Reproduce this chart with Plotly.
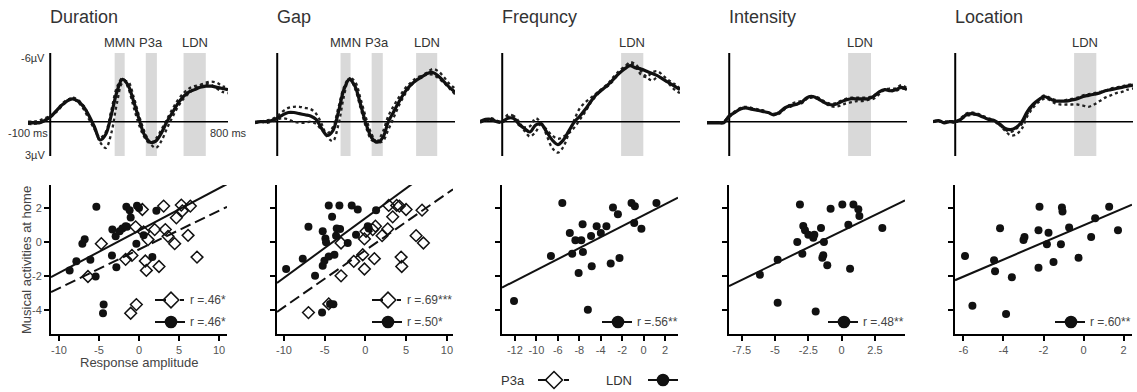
import plotly.graph_objects as go

# ---------------- DATA ----------------
erp_time_ms = [-100, -75, -50, -25, 0, 25, 50, 75, 100, 125, 150, 175, 200, 225, 250, 275, 300,
               325, 350, 375, 400, 425, 450, 475, 500, 525, 550, 575, 600, 625, 650, 675, 700,
               725, 750, 775, 800]

# Duration ERP (uV, negative up)
dur_erp_solid = [0.1, 0.1, 0.1, -0.1, -0.4, -0.9, -1.4, -1.8, -2.0, -1.8, -1.3, -0.5, 0.5, 1.6, 1.1,
                 -0.6, -2.6, -3.7, -3.2, -1.8, -0.2, 1.2, 1.8, 1.7, 1.0, 0.0, -0.8, -1.6, -2.2, -2.6,
                 -2.8, -3.0, -3.1, -3.1, -3.0, -2.9, -2.8]
dur_erp_dot1 = [0.2, 0.2, 0.1, -0.1, -0.4, -0.8, -1.3, -1.8, -2.1, -1.9, -1.4, -0.5, 0.6, 1.8, 2.3,
                1.0, -1.6, -3.4, -3.5, -2.2, -0.5, 0.9, 1.9, 2.3, 1.7, 0.6, -0.4, -1.3, -2.0, -2.5,
                -2.9, -3.2, -3.4, -3.5, -3.4, -3.1, -3.0]
dur_erp_dot2 = [0.0, 0.0, -0.1, -0.3, -0.5, -0.9, -1.5, -1.9, -2.0, -1.7, -1.1, -0.2, 0.7, 1.4, 0.9,
                -1.0, -3.0, -3.8, -3.0, -1.3, 0.3, 1.4, 1.9, 1.5, 0.7, -0.2, -1.1, -1.9, -2.5, -2.9,
                -3.1, -3.2, -3.3, -3.2, -2.9, -2.6, -2.5]
dur_win_labels = ["MMN", "P3a", "LDN"]
dur_win_start = [290, 430, 600]
dur_win_end = [335, 480, 700]

# Gap ERP
gap_erp_solid = [0.1, 0.0, 0.0, -0.1, -0.3, -0.6, -0.8, -0.8, -0.7, -0.6, -0.5, -0.2, 0.6, 1.2, 0.8,
                 -0.8, -2.8, -3.7, -3.1, -1.5, 0.2, 1.4, 1.8, 1.4, 0.0, -0.9, -1.8, -2.6, -3.2, -3.6,
                 -3.9, -4.2, -4.3, -4.0, -3.5, -3.0, -2.6]
gap_erp_dot1 = [0.1, 0.0, -0.1, -0.2, -0.5, -0.9, -1.2, -1.3, -1.3, -1.2, -1.1, -0.7, 0.2, 1.3, 1.7,
                0.3, -2.2, -3.8, -3.5, -2.0, -0.3, 1.1, 1.8, 1.7, 0.7, -0.4, -1.5, -2.4, -3.1, -3.6,
                -4.0, -4.3, -4.6, -4.4, -3.9, -3.3, -2.9]
gap_erp_dot2 = [0.0, 0.0, 0.1, 0.0, -0.2, -0.3, -0.2, 0.0, 0.1, 0.1, 0.0, 0.2, 0.7, 1.0, 0.5,
                -1.2, -3.0, -3.8, -2.9, -1.2, 0.5, 1.6, 1.7, 0.9, -0.5, -1.4, -2.2, -2.9, -3.4, -3.8,
                -4.0, -4.1, -4.1, -3.8, -3.4, -2.9, -2.4]
gap_win_labels = ["MMN", "P3a", "LDN"]
gap_win_start = [285, 425, 625]
gap_win_end = [330, 475, 720]

# Frequency ERP
frq_erp_solid = [0.0, -0.2, -0.2, 0.0, 0.0, -0.3, -0.3, 0.2, 0.6, 0.9, 0.3, 0.2, 0.9, 1.6, 2.0,
                 1.6, 0.8, 0.0, -0.5, -1.1, -1.8, -2.4, -2.8, -3.2, -3.7, -4.2, -4.6, -4.9, -4.7,
                 -4.6, -4.4, -4.2, -4.0, -3.7, -3.4, -3.1, -2.8]
frq_erp_dot1 = [0.0, -0.1, -0.2, 0.0, 0.1, -0.4, -0.5, 0.0, 0.8, 1.3, 0.9, 0.2, 1.2, 2.3, 2.7,
                2.2, 1.0, -0.2, -1.2, -1.7, -2.1, -2.5, -2.9, -3.3, -3.9, -4.4, -4.8, -5.1, -4.8,
                -4.1, -3.9, -4.3, -4.4, -4.0, -3.6, -3.3, -2.9]
frq_erp_dot2 = [0.1, -0.1, -0.3, -0.1, 0.0, -0.6, -0.5, 0.3, 0.5, 0.4, -0.3, 0.1, 0.7, 1.2, 1.5,
                1.3, 1.0, 0.5, -0.2, -0.9, -1.7, -2.3, -2.8, -3.1, -3.6, -4.2, -4.7, -5.2, -5.0,
                -4.4, -3.9, -3.6, -3.9, -3.7, -3.3, -2.8, -2.5]
frq_win_labels = ["LDN"]
frq_win_start = [535]
frq_win_end = [635]

# Intensity ERP
int_erp_solid = [0.1, 0.1, 0.1, 0.1, -0.5, -0.8, -1.1, -1.2, -1.1, -1.0, -0.9, -0.8, -0.6, -0.8,
                 -1.2, -1.4, -1.5, -1.7, -2.1, -2.2, -2.0, -1.7, -1.5, -1.5, -1.7, -1.9, -2.0,
                 -2.0, -2.0, -2.0, -2.2, -2.6, -2.8, -2.7, -2.8, -3.0, -2.8]
int_erp_dot1 = [0.1, 0.1, 0.1, 0.0, -0.4, -0.8, -1.2, -1.3, -1.2, -1.0, -1.0, -0.8, -0.6, -0.7,
                -1.1, -1.5, -1.7, -1.8, -2.0, -2.1, -2.0, -1.7, -1.4, -1.3, -1.4, -1.6, -1.7,
                -1.8, -1.8, -1.9, -2.0, -2.4, -2.8, -2.9, -2.9, -3.2, -2.9]
int_erp_dot2 = [0.1, 0.1, 0.1, 0.0, -0.5, -0.9, -1.1, -1.2, -1.1, -1.1, -0.9, -0.8, -0.7, -0.8,
                -1.2, -1.3, -1.5, -1.6, -2.0, -2.2, -2.1, -1.8, -1.6, -1.6, -1.8, -2.0, -2.1,
                -2.1, -2.1, -2.1, -2.3, -2.6, -2.8, -2.7, -2.7, -2.9, -2.8]
int_win_labels = ["LDN"]
int_win_start = [535]
int_win_end = [638]

# Location ERP
loc_erp_solid = [0.0, -0.1, 0.1, 0.0, 0.0, -0.2, -0.6, -0.7, -0.6, -0.4, -0.2, -0.1, 0.2, 0.6,
                 0.7, 0.5, 0.0, -0.9, -1.5, -1.9, -2.2, -2.0, -1.8, -1.8, -1.8, -1.9, -2.0, -2.2,
                 -2.3, -2.4, -2.5, -2.7, -2.8, -2.9, -3.0, -3.1, -3.2]
loc_erp_dot1 = [0.0, 0.0, 0.0, 0.0, 0.1, -0.3, -0.7, -0.8, -0.7, -0.5, -0.3, -0.1, 0.3, 0.8,
                1.2, 1.1, 0.6, -0.5, -1.2, -1.7, -2.0, -1.9, -1.6, -1.5, -1.5, -1.5, -1.5, -1.4,
                -1.3, -1.5, -1.8, -2.1, -2.3, -2.5, -2.6, -2.8, -2.9]
loc_erp_dot2 = [0.0, -0.1, 0.0, 0.0, 0.0, -0.2, -0.5, -0.6, -0.6, -0.4, -0.2, 0.0, 0.3, 0.7,
                0.9, 0.6, 0.2, -0.7, -1.4, -1.9, -2.3, -2.1, -1.9, -1.8, -1.9, -2.0, -2.1, -2.3,
                -2.4, -2.5, -2.6, -2.7, -2.9, -3.0, -3.1, -3.2, -3.3]
loc_win_labels = ["LDN"]
loc_win_start = [535]
loc_win_end = [635]

panel_titles = ["Duration", "Gap", "Frequncy", "Intensity", "Location"]

# Scatter data: x = response amplitude, y = musical activities at home
dur_ldn_x = [-8.67, -7.83, -7.08, -6.79, -6.08, -5.42, -5.33, -4.42, -4.5, -3.33, -3.38, -2.92,
             -2.83, -2.42, -2.08, -1.67, -1.5, -1.58, -1.17, -1.04, -0.25, 0.0, -0.33, 0.58,
             1.67, 2.17]
dur_ldn_y = [-1.67, -1.14, -0.1, 0.16, -1.04, -2.03, 2.07, -3.68, -4.19, 0.73, -0.79, 0.33,
             -1.48, 0.63, 0.79, 0.93, 0.89, 2.07, 1.87, 1.44, 2.13, 2.0, -0.1, 0.39, -0.89, 1.83]
dur_p3a_x = [-6.38, -4.71, -1.67, -0.88, -1.04, -0.33, -0.42, 0.42, 0.58, 0.79, 0.92, 1.13,
             1.96, 2.5, 3.08, 3.29, 3.63, 4.46, 4.67, 5.29, 5.42, 6.13, 6.42, 7.25]
dur_p3a_y = [-2.03, -0.1, -1.02, -0.79, -4.19, -3.68, 0.89, 1.91, 0.59, -1.12, -1.67, 0.14,
             0.73, -1.44, 2.11, 0.73, 0.33, -0.1, 1.42, 2.17, 1.83, 0.39, 2.11, -0.89]
dur_ldn_fit = [0.67, 0.249]   # intercept, slope
dur_p3a_fit = [-0.44, 0.228]
dur_ldn_r = "r =.46*"
dur_p3a_r = "r =.46*"

gap_ldn_x = [-9.73, -7.69, -6.99, -6.18, -5.32, -5.24, -4.91, -4.83, -5.24, -5.03, -4.5, -4.5,
             -4.09, -3.93, -3.8, -3.6, -3.52, -3.11, -3.19, -2.17, -1.68, -1.15, -0.94, 0.29,
             0.41, 1.31, -4.34]
gap_ldn_y = [-1.59, -0.98, 0.89, -1.99, -4.15, 0.63, 0.2, -0.02, -1.4, -1.1, 2.15, -0.85, 1.48,
             -3.66, -0.75, 0.37, 0.79, 0.77, 2.15, -0.06, 2.15, 0.43, 1.91, 0.93, 0.79, 1.87,
             -3.64]
gap_p3a_x = [-6.99, -4.5, -2.99, -2.99, -1.43, -0.33, -0.12, -0.12, 0.08, 0.9, 1.23, 1.1, 2.05,
             2.74, 2.86, 3.35, 3.84, 4.17, 4.38, 4.46, 4.99, 6.22, 6.95, 7.12]
gap_p3a_y = [-4.15, -3.64, -1.99, -0.06, -1.14, -0.75, -1.59, 0.18, 0.63, 0.73, 0.93, -0.98,
             0.37, 0.77, 2.15, 1.48, 2.15, 2.11, -0.89, -1.44, 1.91, 0.37, 1.87, -0.06]
gap_ldn_fit = [1.40, 0.351]
gap_p3a_fit = [-0.49, 0.334]
gap_ldn_r = "r =.50*"
gap_p3a_r = "r =.69***"

frq_ldn_x = [-12.08, -8.64, -7.58, -6.88, -6.66, -6.36, -5.81, -6.06, -5.69, -5.66, -5.2, -4.84,
             -4.9, -4.38, -3.99, -3.47, -3.07, -2.86, -2.4, -2.25, -1.13, -0.82, -0.88, -0.21,
             1.19]
frq_ldn_y = [-3.47, -0.82, 2.29, 0.53, -0.69, 0.1, 0.1, -1.82, 1.04, -0.59, -3.98, -1.43, 0.35,
             0.92, 0.53, 0.92, -1.27, 2.02, 1.63, -0.94, 2.29, 2.1, 1.12, 0.78, 2.29]
frq_ldn_fit = [1.57, 0.322]
frq_ldn_r = "r =.56**"

int_ldn_x = [-6.13, -4.8, -4.8, -3.33, -3.13, -2.95, -2.88, -2.75, -2.5, -2.13, -2.05, -1.95,
             -1.55, -1.45, -1.38, -1.33, -1.08, -0.83, 0.05, 0.5, 0.63, 0.88, 1.25, 1.33, 3.05]
int_ldn_y = [-1.92, -1.04, -3.57, 0.0, 2.2, -0.69, 0.94, 0.69, 0.43, 0.25, 0.43, -4.08, 0.82,
             -0.92, -0.78, 0.0, -1.37, 1.96, 2.2, 1.02, -1.57, 2.2, 1.92, 1.53, 0.82]
int_ldn_fit = [0.636, 0.382]
int_ldn_r = "r =.48**"

loc_ldn_x = [-5.92, -5.55, -4.47, -4.42, -4.17, -3.87, -3.58, -3.0, -2.95, -2.25, -2.2, -2.25,
             -1.83, -1.75, -1.5, -1.13, -1.08, -1.05, -0.72, -0.25, 0.38, 0.58, 1.28, 1.72]
loc_ldn_y = [-0.83, -3.75, -1.07, -1.72, 0.81, -4.24, -2.07, 0.12, 0.3, 0.69, 2.07, -1.52, -0.14,
             0.55, -1.18, -0.14, 2.03, 1.79, 0.85, -0.93, 0.3, 1.4, 2.07, 0.69]
loc_ldn_fit = [0.975, 0.502]
loc_ldn_r = "r =.60**"

# Tick labels
y_tick_vals = [-4, -2, 0, 2]
y_tick_text = ["-4", "-2", "0", "2"]
dur_xtick_vals = [-10, -5, 0, 5, 10]
dur_xtick_text = ["-10", "-5", "0", "5", "10"]
gap_xtick_vals = [-10, -5, 0, 5, 10]
gap_xtick_text = ["-10", "-5", "0", "5", "10"]
frq_xtick_vals = [-12, -10, -8, -6, -4, -2, 0, 2]
frq_xtick_text = ["-12", "-10", "-6", "-8", "-4", "-2", "0", "2"]
int_xtick_vals = [-7.5, -5, -2.5, 0, 2.5]
int_xtick_text = ["-7.5", "-5", "-2.5", "0", "2.5"]
loc_xtick_vals = [-6, -4, -2, 0, 2]
loc_xtick_text = ["-6", "-4", "-2", "0", "2"]

y_axis_title = "Musical activities at home"
x_axis_title = "Response amplitude"
legend_p3a_label = "P3a"
legend_ldn_label = "LDN"

# ---------------- LAYOUT HELPERS ----------------
W, H = 1137, 392
FONT = "Liberation Sans, Arial, sans-serif"


def fx(px):
    return px / W


def fy(py):
    return 1 - py / H


def xa(k):
    return "x" if k == 1 else f"x{k}"


def ya(k):
    return "y" if k == 1 else f"y{k}"


def xkey(k):
    return "xaxis" if k == 1 else f"xaxis{k}"


def ykey(k):
    return "yaxis" if k == 1 else f"yaxis{k}"


top_panels = [
    dict(solid=dur_erp_solid, dots=[dur_erp_dot1, dur_erp_dot2], wl=dur_win_labels,
         ws=dur_win_start, we=dur_win_end),
    dict(solid=gap_erp_solid, dots=[gap_erp_dot1, gap_erp_dot2], wl=gap_win_labels,
         ws=gap_win_start, we=gap_win_end),
    dict(solid=frq_erp_solid, dots=[frq_erp_dot1, frq_erp_dot2], wl=frq_win_labels,
         ws=frq_win_start, we=frq_win_end),
    dict(solid=int_erp_solid, dots=[int_erp_dot1, int_erp_dot2], wl=int_win_labels,
         ws=int_win_start, we=int_win_end),
    dict(solid=loc_erp_solid, dots=[loc_erp_dot1, loc_erp_dot2], wl=loc_win_labels,
         ws=loc_win_start, we=loc_win_end),
]
top_left_px = [28, 255, 480, 707, 933]
TOP_W = 200

bottom_panels = [
    dict(ldn=(dur_ldn_x, dur_ldn_y), p3a=(dur_p3a_x, dur_p3a_y), ldn_fit=dur_ldn_fit,
         p3a_fit=dur_p3a_fit, ldn_r=dur_ldn_r, p3a_r=dur_p3a_r,
         tv=dur_xtick_vals, tt=dur_xtick_text, rng=[-11, 11]),
    dict(ldn=(gap_ldn_x, gap_ldn_y), p3a=(gap_p3a_x, gap_p3a_y), ldn_fit=gap_ldn_fit,
         p3a_fit=gap_p3a_fit, ldn_r=gap_ldn_r, p3a_r=gap_p3a_r,
         tv=gap_xtick_vals, tt=gap_xtick_text, rng=[-10.85, 10.75]),
    dict(ldn=(frq_ldn_x, frq_ldn_y), p3a=None, ldn_fit=frq_ldn_fit, p3a_fit=None,
         ldn_r=frq_ldn_r, p3a_r=None, tv=frq_xtick_vals, tt=frq_xtick_text, rng=[-13.2, 3.2]),
    dict(ldn=(int_ldn_x, int_ldn_y), p3a=None, ldn_fit=int_ldn_fit, p3a_fit=None,
         ldn_r=int_ldn_r, p3a_r=None, tv=int_xtick_vals, tt=int_xtick_text, rng=[-8.45, 4.75]),
    dict(ldn=(loc_ldn_x, loc_ldn_y), p3a=None, ldn_fit=loc_ldn_fit, p3a_fit=None,
         ldn_r=loc_ldn_r, p3a_r=None, tv=loc_xtick_vals, tt=loc_xtick_text, rng=[-6.42, 2.42]),
]
bottom_x_px = [(51, 227), (277, 453), (502, 678), (729, 905), (955, 1132)]
legend_left_px = [155, 372, 602, 828, 1055]
BOT_TOP, BOT_BOT = 185, 334
Y_RANGE = [-5.41, 3.35]

fig = go.Figure()
layout = dict(width=W, height=H, margin=dict(l=0, r=0, t=0, b=0, pad=0),
              paper_bgcolor="white", plot_bgcolor="rgba(0,0,0,0)", showlegend=False,
              font=dict(family=FONT, color="#333", size=12))
shapes = []
annotations = []

# ---------------- TOP: ERP waveforms ----------------
for i, p in enumerate(top_panels):
    k = i + 1
    x0 = top_left_px[i]
    layout[xkey(k)] = dict(domain=[fx(x0), fx(x0 + TOP_W)], range=[-100, 800], visible=False,
                           anchor=ya(k), fixedrange=True)
    layout[ykey(k)] = dict(domain=[fy(156), fy(53)], range=[3, -6], visible=False,
                           anchor=xa(k), fixedrange=True)
    for lab, s, e in zip(p["wl"], p["ws"], p["we"]):
        shapes.append(dict(type="rect", xref=xa(k), yref=ya(k), x0=s, x1=e, y0=-6, y1=3,
                           fillcolor="#d9d9d9", line=dict(width=0), layer="below"))
        annotations.append(dict(xref=xa(k), yref=ya(k), x=(s + e) / 2, y=-6, yanchor="bottom",
                                xanchor="center", text=lab, showarrow=False, yshift=1,
                                font=dict(size=13, color="#333")))
    shapes.append(dict(type="line", xref=xa(k), yref=ya(k), x0=-100, x1=800, y0=0, y1=0,
                       line=dict(color="black", width=1.5), layer="below"))
    shapes.append(dict(type="line", xref=xa(k), yref=ya(k), x0=0, x1=0, y0=-6, y1=3,
                       line=dict(color="black", width=2), layer="below"))
    for d in p["dots"]:
        fig.add_trace(go.Scatter(x=erp_time_ms, y=d, mode="lines", xaxis=xa(k), yaxis=ya(k),
                                 line=dict(color="#222", width=2.3, dash="dot", shape="spline"),
                                 hoverinfo="skip"))
    fig.add_trace(go.Scatter(x=erp_time_ms, y=p["solid"], mode="lines", xaxis=xa(k), yaxis=ya(k),
                             line=dict(color="#111", width=3.2, shape="spline"), hoverinfo="skip"))
    annotations.append(dict(xref=xa(k), yref="paper", x=0, y=fy(17), xanchor="left",
                            yanchor="middle", text=panel_titles[i], showarrow=False, xshift=-2,
                            font=dict(size=18, color="#333")))

# Duration axis labels
annotations += [
    dict(xref="x", yref="y", x=0, y=-5.6, xanchor="right", yanchor="middle", text="-6µV",
         showarrow=False, xshift=-3, font=dict(size=11, color="#333")),
    dict(xref="x", yref="y", x=0, y=2.9, xanchor="right", yanchor="middle", text="3µV",
         showarrow=False, xshift=-3, font=dict(size=11, color="#333")),
    dict(xref="x", yref="y", x=-100, y=1.0, xanchor="center", yanchor="middle", text="-100 ms",
         showarrow=False, font=dict(size=11, color="#333")),
    dict(xref="x", yref="y", x=800, y=1.0, xanchor="center", yanchor="middle", text="800 ms",
         showarrow=False, font=dict(size=11, color="#333")),
]

# ---------------- BOTTOM: scatter plots ----------------
axis_style = dict(showline=True, linecolor="black", linewidth=2, ticks="outside", ticklen=5,
                  tickwidth=1.5, tickcolor="black", showgrid=False, zeroline=False,
                  tickfont=dict(size=11, color="#555"), fixedrange=True)

# overlay pixel axes for legend glyphs
layout["xaxis11"] = dict(domain=[0, 1], range=[0, W], visible=False, anchor="y11",
                         fixedrange=True)
layout["yaxis11"] = dict(domain=[0, 1], range=[H, 0], visible=False, anchor="x11",
                         fixedrange=True)


def glyph_line(x0, x1, y):
    fig.add_trace(go.Scatter(x=[x0, x1], y=[y, y], mode="lines", xaxis="x11", yaxis="y11",
                             line=dict(color="#111", width=2), hoverinfo="skip"))


def glyph_marker(x, y, symbol, size):
    fig.add_trace(go.Scatter(x=[x], y=[y], mode="markers", xaxis="x11", yaxis="y11",
                             marker=dict(symbol=symbol, size=size, color="#111",
                                         line=dict(color="#111", width=1.6)),
                             hoverinfo="skip"))


for i, p in enumerate(bottom_panels):
    k = i + 6
    a, b = bottom_x_px[i]
    layout[xkey(k)] = dict(domain=[fx(a), fx(b)], range=p["rng"], anchor=ya(k),
                           tickvals=p["tv"], ticktext=p["tt"], **axis_style)
    layout[ykey(k)] = dict(domain=[fy(BOT_BOT), fy(BOT_TOP)], range=Y_RANGE, anchor=xa(k),
                           tickvals=y_tick_vals, ticktext=y_tick_text,
                           showticklabels=(i == 0), **axis_style)
    xr = p["rng"]
    if p["p3a_fit"] is not None:
        c0, c1 = p["p3a_fit"]
        fig.add_trace(go.Scatter(x=xr, y=[c0 + c1 * v for v in xr], mode="lines",
                                 xaxis=xa(k), yaxis=ya(k), hoverinfo="skip",
                                 line=dict(color="#111", width=2, dash="11px,5px")))
    c0, c1 = p["ldn_fit"]
    fig.add_trace(go.Scatter(x=xr, y=[c0 + c1 * v for v in xr], mode="lines",
                             xaxis=xa(k), yaxis=ya(k), hoverinfo="skip",
                             line=dict(color="#111", width=2)))
    fig.add_trace(go.Scatter(x=p["ldn"][0], y=p["ldn"][1], mode="markers", xaxis=xa(k),
                             yaxis=ya(k), marker=dict(symbol="circle", size=8, color="#111"),
                             hoverinfo="skip"))
    if p["p3a"] is not None:
        fig.add_trace(go.Scatter(x=p["p3a"][0], y=p["p3a"][1], mode="markers", xaxis=xa(k),
                                 yaxis=ya(k),
                                 marker=dict(symbol="diamond-open", size=9, color="#111",
                                             line=dict(width=1.5)),
                                 hoverinfo="skip"))
    # in-panel legend
    L = legend_left_px[i]
    row_circle, row_diamond = 322, 300
    glyph_line(L, L + 30, row_circle)
    glyph_marker(L + 16, row_circle, "circle", 11)
    annotations.append(dict(xref="paper", yref="paper", x=fx(L + 33), y=fy(row_circle),
                            xanchor="left", yanchor="middle", text=p["ldn_r"], showarrow=False,
                            font=dict(size=12, color="#444")))
    if p["p3a_r"] is not None:
        glyph_line(L, L + 11, row_diamond)
        glyph_marker(L + 16, row_diamond, "diamond-open", 12)
        glyph_line(L + 25, L + 29, row_diamond)
        annotations.append(dict(xref="paper", yref="paper", x=fx(L + 33), y=fy(row_diamond),
                                xanchor="left", yanchor="middle", text=p["p3a_r"],
                                showarrow=False, font=dict(size=12, color="#444")))

# Axis titles
annotations.append(dict(xref="paper", yref="paper", x=fx(26), y=fy(260), text=y_axis_title,
                        textangle=-90, showarrow=False, xanchor="center", yanchor="middle",
                        font=dict(size=13, color="#444")))
annotations.append(dict(xref="paper", yref="paper", x=fx(139), y=fy(362), text=x_axis_title,
                        showarrow=False, xanchor="center", yanchor="middle",
                        font=dict(size=13, color="#444")))

# Bottom legend
annotations.append(dict(xref="paper", yref="paper", x=fx(513), y=fy(380), text=legend_p3a_label,
                        showarrow=False, xanchor="center", yanchor="middle",
                        font=dict(size=13, color="#333")))
glyph_line(538, 547, 380)
glyph_marker(554, 380, "diamond-open", 13)
glyph_line(564, 569, 380)
annotations.append(dict(xref="paper", yref="paper", x=fx(619), y=fy(380), text=legend_ldn_label,
                        showarrow=False, xanchor="center", yanchor="middle",
                        font=dict(size=13, color="#333")))
glyph_line(648, 678, 380)
glyph_marker(663, 380, "circle", 11)

layout["shapes"] = shapes
layout["annotations"] = annotations
fig.update_layout(**layout)
fig.write_html(
    "out.html",
    config={"displayModeBar": False},
    post_script="document.body.style.margin='0';document.body.style.padding='0';"
                "document.body.style.overflow='hidden';",
)
